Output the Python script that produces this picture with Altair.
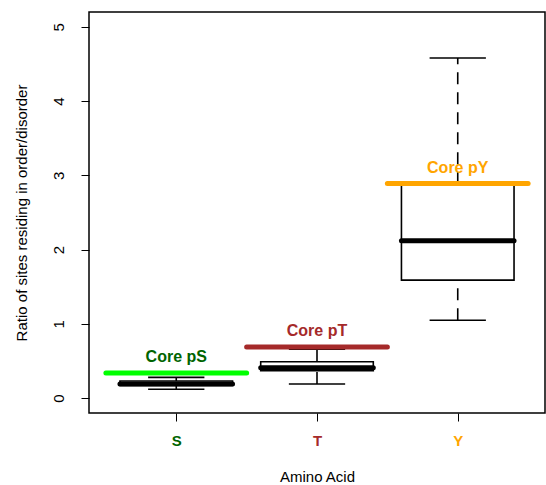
import altair as alt
import pandas as pd

aa = ["S", "T", "Y"]
pos = [1, 2, 3]
lower = [0.12, 0.19, 1.05]
q1 = [0.17, 0.37, 1.59]
median = [0.19, 0.41, 2.12]
q3 = [0.23, 0.49, 2.88]
upper = [0.28, 0.66, 4.58]

core_labels = ["Core pS", "Core pT", "Core pY"]
core_values = [0.34, 0.69, 2.89]
line_colors = ["#00ff00", "#a52a2a", "#ffa500"]
text_colors = ["#006400", "#a52a2a", "#ffa500"]

df = pd.DataFrame({"aa": aa, "pos": pos, "lower": lower, "q1": q1, "median": median,
                   "q3": q3, "upper": upper, "core": core_values, "label": core_labels,
                   "lc": line_colors, "tc": text_colors})

FONT = "Liberation Sans"
FS = 15
xs = alt.Scale(domain=[0.38, 3.62], nice=False, zero=False)
ys = alt.Scale(domain=[-0.2, 5.2], nice=False, zero=False)

xaxis = alt.Axis(values=[1, 2, 3], title="Amino Acid", grid=False, domain=False,
                 labelExpr="datum.value == 1 ? 'S' : datum.value == 2 ? 'T' : 'Y'",
                 labelFontWeight="bold", labelFontSize=FS, labelPadding=12,
                 labelColor={"condition": [{"test": "datum.value == 1", "value": "#006400"},
                                           {"test": "datum.value == 2", "value": "#a52a2a"}],
                             "value": "#ffa500"},
                 tickSize=8, tickColor="black", titleFontWeight="normal", titleFontSize=FS,
                 titlePadding=21, titleColor="black", labelFont=FONT, titleFont=FONT)
yaxis = alt.Axis(values=[0, 1, 2, 3, 4, 5], format="d", title="Ratio of sites residing in order/disorder",
                 grid=False, domain=False, labelAngle=-90, labelAlign="center",
                 labelBaseline="bottom", labelPadding=15, labelFontSize=FS, labelColor="black",
                 tickSize=8, tickColor="black", titleFontWeight="normal", titleFontSize=FS,
                 titlePadding=22, titleColor="black", labelFont=FONT, titleFont=FONT)

base = alt.Chart(df).transform_calculate(
    bl="datum.pos - 0.4", br="datum.pos + 0.4",
    sl="datum.pos - 0.2", sr="datum.pos + 0.2",
    cl="datum.pos - 0.5", cr="datum.pos + 0.5")

whisk_up = base.mark_rule(color="black", strokeDash=[12, 8], strokeWidth=1.6).encode(
    x=alt.X("pos:Q", scale=xs, axis=xaxis), y=alt.Y("q3:Q", scale=ys, axis=yaxis), y2="upper:Q")
whisk_lo = base.mark_rule(color="black", strokeDash=[12, 8], strokeWidth=1.6).encode(
    x="pos:Q", y="lower:Q", y2="q1:Q")
staple_up = base.mark_rule(color="black", strokeWidth=1.6).encode(
    x="sl:Q", x2="sr:Q", y="upper:Q")
staple_lo = base.mark_rule(color="black", strokeWidth=1.6).encode(
    x="sl:Q", x2="sr:Q", y="lower:Q")
box = base.mark_rect(fill="white", stroke="black", strokeWidth=1.6).encode(
    x="bl:Q", x2="br:Q", y="q1:Q", y2="q3:Q")
med = base.mark_rule(color="black", strokeWidth=5, strokeCap="round").encode(
    x="bl:Q", x2="br:Q", y="median:Q")
core = base.mark_rule(strokeWidth=5, strokeCap="round").encode(
    x="cl:Q", x2="cr:Q", y="core:Q", color=alt.Color("lc:N", scale=None))
txt = base.mark_text(font=FONT, fontSize=16, fontWeight="bold", dy=-16, baseline="middle").encode(
    x="pos:Q", y="core:Q", text="label:N", color=alt.Color("tc:N", scale=None))

chart = alt.layer(whisk_up, whisk_lo, staple_up, staple_lo, box, med, core, txt).properties(
    width=456, height=401, background="white",
    autosize=alt.AutoSizeParams(type="none"),
    padding={"left": 89, "top": 12, "right": 1, "bottom": 72},
).configure_view(stroke="black", strokeWidth=1.5)

chart.save("out.html", embed_options={"renderer": "svg", "actions": False})
